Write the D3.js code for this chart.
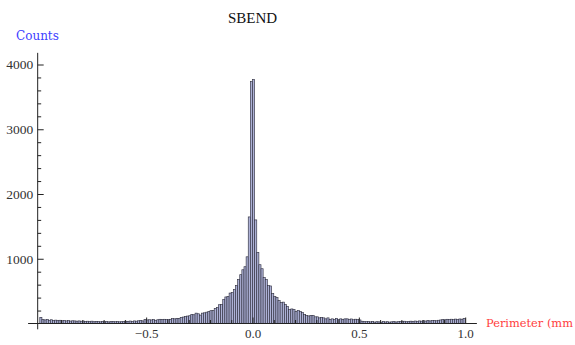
<!DOCTYPE html>
<html><head><meta charset="utf-8">
<script src="https://cdn.jsdelivr.net/npm/d3@7"></script>
<style>body{margin:0;background:#fff}svg{display:block}</style>
</head><body><svg id="c" width="575" height="345"></svg>
<script>
const title = "SBEND";
const yLabel = "Counts";
const xLabel = "Perimeter (mm";
const binStart = -1.0;
const binWidth = 0.01;
// counts for bins -1.00 .. 0.00
const countsNeg = [
  95, 60, 55, 62, 50, 58, 48, 52, 45, 50, 42, 48, 40, 45, 38, 42, 40, 36, 40, 35,
  38, 32, 35, 30, 36, 28, 33, 30, 26, 32, 28, 30, 25, 29, 32, 27, 30, 26, 28, 31,
  35, 30, 38, 32, 40, 36, 42, 45, 40, 62,
  55, 58, 55, 62, 50, 58, 65,
  60, 65, 60, 62, 65, 75, 72, 80, 75, 95, 100, 110, 115, 120, 140, 135, 160, 150, 130, 160,
  165, 175, 185, 198, 200, 230, 246, 290, 295, 370, 410, 415, 470, 477, 523, 585, 677, 754,
  830, 877, 1030, 1646, 3735
];
// counts for bins 0.00 .. 1.00
const countsPos = [
  3770, 1600, 1097, 908, 846, 708, 677, 585, 580, 462,
  415, 400, 354, 323, 330, 292, 262, 215, 225, 215,
  185, 200, 185, 170, 140, 123, 117, 123, 123, 103,
  103, 87, 95, 87, 72, 87, 62, 72, 62, 80,
  62, 72, 62, 72, 72, 65, 70, 58, 66, 60,
  55, 35, 30, 28, 32, 25, 30, 22, 28, 26,
  20, 30, 24, 28, 22, 26, 30, 24, 28, 32,
  30, 35, 28, 33, 36, 30, 38, 34, 40, 36,
  42, 38, 45, 40, 44, 48, 42, 50, 55, 60,
  58, 65, 62, 66, 60, 68, 64, 70, 66, 78
];
const xTickValues = [-0.5, 0, 0.5, 1.0];
const xTickLabels = ["\u22120.5", "0.0", "0.5", "1.0"];
const xMinorTicks = [-0.9,-0.8,-0.7,-0.6,-0.4,-0.3,-0.2,-0.1,0.1,0.2,0.3,0.4,0.6,0.7,0.8,0.9];
const yTickValues = [1000, 2000, 3000, 4000];
const yMinorTicks = [200,400,600,800,1200,1400,1600,1800,2200,2400,2600,2800,3200,3400,3600,3800];

const counts = countsNeg.concat(countsPos);
const bins = counts.map((c, i) => ({x0: binStart + i * binWidth, x1: binStart + (i + 1) * binWidth, c}));

const svg = d3.select("#c");
const x = d3.scaleLinear().domain([-1, 1]).range([39.8, 465.2]);
const y = d3.scaleLinear().domain([0, 4000]).range([323.5, 64.5]);

// bars
svg.append("g").selectAll("rect").data(bins).join("rect")
  .attr("x", d => x(d.x0))
  .attr("width", d => x(d.x1) - x(d.x0))
  .attr("y", d => y(d.c))
  .attr("height", d => y(0) - y(d.c))
  .attr("fill", "#adb1d6")
  .attr("stroke", "#303040")
  .attr("stroke-width", 0.65);

const axisColor = "#222";
// axis lines
svg.append("line").attr("x1", x(-1.055)).attr("x2", x(1.055)).attr("y1", y(0)).attr("y2", y(0))
  .attr("stroke", axisColor).attr("stroke-width", 1);
svg.append("line").attr("x1", x(-1.01)).attr("x2", x(-1.01)).attr("y1", y(4180)).attr("y2", y(-90))
  .attr("stroke", axisColor).attr("stroke-width", 1);

// x axis major ticks with labels
const gx = svg.append("g").attr("transform", `translate(0,${y(0)})`)
  .call(d3.axisBottom(x).tickValues(xTickValues).tickFormat((d, i) => xTickLabels[i])
    .tickSizeInner(-6).tickSizeOuter(0).tickPadding(5.3));
gx.select(".domain").remove();
gx.selectAll("line").attr("stroke", axisColor);
gx.selectAll("text").attr("font-family", "'Liberation Serif', serif").attr("font-size", 13).attr("fill", "#333");

const gxm = svg.append("g").attr("transform", `translate(0,${y(0)})`)
  .call(d3.axisBottom(x).tickValues(xMinorTicks).tickFormat("").tickSizeInner(-3.5).tickSizeOuter(0));
gxm.select(".domain").remove();
gxm.selectAll("line").attr("stroke", axisColor);

// y axis
const gy = svg.append("g").attr("transform", `translate(${x(-1.01)},0)`)
  .call(d3.axisLeft(y).tickValues(yTickValues).tickFormat(d3.format("d"))
    .tickSizeInner(-6).tickSizeOuter(0).tickPadding(4.4));
gy.select(".domain").remove();
gy.selectAll("line").attr("stroke", axisColor);
gy.selectAll("text").attr("font-family", "'Liberation Serif', serif").attr("font-size", 13.5).attr("fill", "#333");

const gym = svg.append("g").attr("transform", `translate(${x(-1.01)},0)`)
  .call(d3.axisLeft(y).tickValues(yMinorTicks).tickFormat("").tickSizeInner(-3.5).tickSizeOuter(0));
gym.select(".domain").remove();
gym.selectAll("line").attr("stroke", axisColor);

// title and axis labels
svg.append("text").attr("x", 252.5).attr("y", 23).attr("text-anchor", "middle")
  .attr("font-family", "'Liberation Serif', serif").attr("font-size", 15).attr("fill", "#111").text(title);
svg.append("text").attr("x", 16).attr("y", 39.5)
  .attr("font-family", "'DejaVu Serif', serif").attr("font-size", 12).attr("fill", "#4040ff").text(yLabel);
svg.append("text").attr("x", 486).attr("y", 327)
  .attr("font-family", "'DejaVu Serif', serif").attr("font-size", 11.4).attr("fill", "#ff3c3c").text(xLabel);
</script>
</body></html>
